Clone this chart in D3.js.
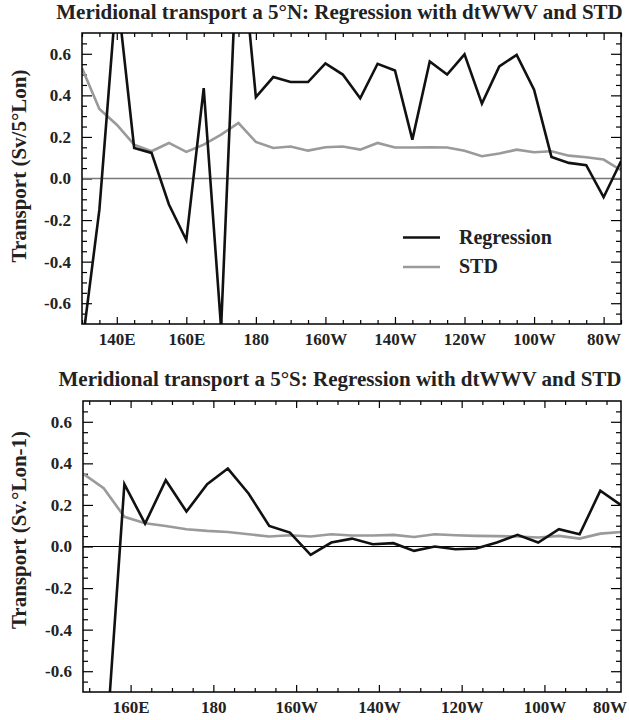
<!DOCTYPE html>
<html>

<head>
    <meta http-equiv="Content-Type" content="text/html;" charset="utf-8">
    <script type="text/javascript" src="https://cdn.jsdelivr.net/npm/d3@7/dist/d3.min.js"></script>
    <style>
        body { margin: 0; background: #fff; }
        text { font-family: "Liberation Serif", "Times New Roman", serif; font-weight: bold; }
    </style>
</head>

<body>
    <div class="chart-div"></div>
    <script type="text/javascript">

        var width = 629;
        var height = 720;
        var serif = '"Liberation Serif", "Times New Roman", serif';

        //-------------------------------------------- DATA

        // 5N section, one point every 5 deg of longitude (deg east)
        var lonN = [130, 135, 140, 145, 150, 155, 160, 165, 170, 175, 180, 185, 190, 195, 200, 205,
            210, 215, 220, 225, 230, 235, 240, 245, 250, 255, 260, 265, 270, 275, 280, 285];
        var regN = [-0.81, -0.15, 0.91, 0.147, 0.123, -0.125, -0.296, 0.435, -0.72, 1.27, 0.392, 0.488,
            0.464, 0.464, 0.554, 0.50, 0.386, 0.552, 0.52, 0.187, 0.563, 0.50, 0.597, 0.36,
            0.539, 0.595, 0.427, 0.104, 0.075, 0.064, -0.09, 0.083];
        var stdN = [0.531, 0.334, 0.259, 0.163, 0.131, 0.171, 0.128, 0.163, 0.211, 0.267, 0.176, 0.147,
            0.154, 0.134, 0.15, 0.154, 0.139, 0.171, 0.149, 0.149, 0.15, 0.149, 0.134, 0.107,
            0.12, 0.139, 0.126, 0.131, 0.11, 0.102, 0.091, 0.04];

        // 5S section
        var lonS = [148.5, 153.5, 158.5, 163.5, 168.5, 173.5, 178.5, 183.5, 188.5, 193.5, 198.5, 203.5,
            208.5, 213.5, 218.5, 223.5, 228.5, 233.5, 238.5, 243.5, 248.5, 253.5, 258.5, 263.5,
            268.5, 273.5, 278.5];
        var regS = [-1.0, -1.13, 0.30, 0.11, 0.319, 0.168, 0.30, 0.375, 0.255, 0.099, 0.067, -0.04,
            0.019, 0.038, 0.011, 0.016, -0.021, 0.0, -0.013, -0.01, 0.019, 0.056, 0.019, 0.083,
            0.059, 0.268, 0.199];
        var stdS = [0.351, 0.28, 0.143, 0.112, 0.099, 0.083, 0.075, 0.07, 0.059, 0.048, 0.054, 0.048,
            0.059, 0.053, 0.053, 0.056, 0.046, 0.059, 0.054, 0.051, 0.05, 0.048, 0.043, 0.051,
            0.038, 0.062, 0.07];

        var xTicksN = [140, 160, 180, 200, 220, 240, 260, 280];
        var xLabelsN = ["140E", "160E", "180", "160W", "140W", "120W", "100W", "80W"];
        var xTicksS = [160, 180, 200, 220, 240, 260];
        var xLabelsS = ["160E", "180", "160W", "140W", "120W", "100W"];
        var xEndLabelS = "80W";
        var yTicks = [-0.6, -0.4, -0.2, 0.0, 0.2, 0.4, 0.6];
        var yLabels = ["-0.6", "-0.4", "-0.2", "0.0", "0.2", "0.4", "0.6"];

        var legendNames = ["Regression", "STD"];
        var regColor = "#111";
        var stdColor = "#9a9a9a";

        //--------------------------------------------CONTAINERS

        var svg = d3.select("div.chart-div")
            .append("svg")
            .attr("width", width)
            .attr("height", height);

        var panels = [
            {
                id: "n", left: 82, right: 621, top: 33, bottom: 324,
                xdom: [130, 285], lon: lonN, reg: regN, std: stdN,
                xt: xTicksN, xl: xLabelsN, endLabel: null,
                title: "Meridional transport a 5°N: Regression with dtWWV and STD", titleY: 19,
                ytitle: "Transport (Sv/5°Lon)", ytitleY: 166,
                zeroColor: "#777", zeroWidth: 1.5, legend: true
            },
            {
                id: "s", left: 83, right: 621, top: 401, bottom: 692,
                xdom: [148.5, 278.5], lon: lonS, reg: regS, std: stdS,
                xt: xTicksS, xl: xLabelsS, endLabel: xEndLabelS,
                title: "Meridional transport a 5°S: Regression with dtWWV and STD", titleY: 386,
                ytitle: "Transport (Sv.°Lon-1)", ytitleY: 530,
                zeroColor: "#000", zeroWidth: 1, legend: false
            }
        ];

        panels.forEach(function (p) {

            var x = d3.scaleLinear().domain(p.xdom).range([p.left, p.right]);
            var y = d3.scaleLinear().domain([-0.7, 0.7]).range([p.bottom, p.top]);

            var g = svg.append("g").attr("class", "panel-" + p.id);

            g.append("clipPath").attr("id", "clip-" + p.id)
                .append("rect")
                .attr("x", p.left).attr("y", p.top)
                .attr("width", p.right - p.left).attr("height", p.bottom - p.top);

            // minor ticks every 5 deg / 0.05
            var xMinor = d3.range(Math.ceil(p.xdom[0] / 5) * 5, p.xdom[1] + 0.01, 5)
                .filter(function (v) { return p.xt.indexOf(v) < 0; });
            var yMinor = d3.range(-14, 15).map(function (k) { return k * 0.05; })
                .filter(function (v) { return Math.abs(v) < 0.69 && Math.abs(v * 5 - Math.round(v * 5)) > 0.01; });

            // bottom (labels)
            g.append("g").attr("class", "xaxis")
                .attr("transform", "translate(0," + p.bottom + ")")
                .call(d3.axisBottom(x).tickValues(p.xt).tickSize(-7).tickPadding(9)
                    .tickFormat(function (d, i) { return p.xl[i]; }));
            g.append("g").attr("transform", "translate(0," + p.bottom + ")")
                .call(d3.axisBottom(x).tickValues(xMinor).tickSize(-4).tickFormat(""));
            // top
            g.append("g").attr("transform", "translate(0," + p.top + ")")
                .call(d3.axisTop(x).tickValues(p.xt).tickSize(-7).tickFormat(""));
            g.append("g").attr("transform", "translate(0," + p.top + ")")
                .call(d3.axisTop(x).tickValues(xMinor).tickSize(-4).tickFormat(""));
            // left (labels)
            g.append("g").attr("class", "yaxis")
                .attr("transform", "translate(" + p.left + ",0)")
                .call(d3.axisLeft(y).tickValues(yTicks).tickSize(-10).tickPadding(11)
                    .tickFormat(function (d, i) { return yLabels[i]; }));
            g.append("g").attr("transform", "translate(" + p.left + ",0)")
                .call(d3.axisLeft(y).tickValues(yMinor).tickSize(-5).tickFormat(""));
            // right
            g.append("g").attr("transform", "translate(" + p.right + ",0)")
                .call(d3.axisRight(y).tickValues(yTicks).tickSize(-10).tickFormat(""));
            g.append("g").attr("transform", "translate(" + p.right + ",0)")
                .call(d3.axisRight(y).tickValues(yMinor).tickSize(-5).tickFormat(""));

            g.selectAll(".domain").remove();
            g.selectAll(".tick line").attr("stroke", "#000").attr("stroke-width", 1.2);
            g.selectAll(".tick text")
                .style("font-family", serif)
                .style("font-weight", "bold")
                .style("font-size", "17px")
                .attr("fill", "#222");

            if (p.endLabel) {
                g.append("text")
                    .attr("x", x(p.xdom[1]) + 6)
                    .attr("y", p.bottom + 9)
                    .attr("dy", "0.71em")
                    .attr("text-anchor", "end")
                    .style("font-size", "17px")
                    .attr("fill", "#222")
                    .text(p.endLabel);
            }

            // zero line
            g.append("line")
                .attr("x1", p.left).attr("x2", p.right)
                .attr("y1", y(0)).attr("y2", y(0))
                .attr("stroke", p.zeroColor)
                .attr("stroke-width", p.zeroWidth);

            var line = d3.line()
                .x(function (d) { return x(d[0]); })
                .y(function (d) { return y(d[1]); });

            var lines = g.append("g").attr("clip-path", "url(#clip-" + p.id + ")");

            lines.append("path")
                .attr("fill", "none")
                .attr("stroke", stdColor)
                .attr("stroke-width", 2.6)
                .attr("stroke-linejoin", "miter")
                .attr("d", line(d3.zip(p.lon, p.std)));

            lines.append("path")
                .attr("fill", "none")
                .attr("stroke", regColor)
                .attr("stroke-width", 2.6)
                .attr("stroke-linejoin", "miter")
                .attr("d", line(d3.zip(p.lon, p.reg)));

            // frame
            g.append("rect")
                .attr("x", p.left).attr("y", p.top)
                .attr("width", p.right - p.left).attr("height", p.bottom - p.top)
                .attr("fill", "none")
                .attr("stroke", "#000")
                .attr("stroke-width", 1.5);

            // titles
            g.append("text")
                .attr("x", (p.left + p.right) / 2 - 12)
                .attr("y", p.titleY)
                .attr("text-anchor", "middle")
                .style("font-size", "21px")
                .attr("fill", "#222")
                .text(p.title);

            g.append("text")
                .attr("transform", "translate(26," + p.ytitleY + ") rotate(-90)")
                .attr("text-anchor", "middle")
                .style("font-size", "21px")
                .attr("fill", "#222")
                .text(p.ytitle);

            //+++++++++++++++++++++++++++++++ LEGEND ++++++++++++++++++++++++++++
            if (p.legend) {
                var leg = g.append("g");
                var legColors = [regColor, stdColor];
                legendNames.forEach(function (name, i) {
                    var ly = 237.5 + i * 29.5;
                    leg.append("line")
                        .attr("x1", 403).attr("x2", 440)
                        .attr("y1", ly).attr("y2", ly)
                        .attr("stroke", legColors[i])
                        .attr("stroke-width", 2.6);
                    leg.append("text")
                        .attr("x", 459)
                        .attr("y", ly + 6)
                        .style("font-size", "20px")
                        .attr("fill", "#222")
                        .text(name);
                });
            }
        });

    </script>

</body>

</html>
